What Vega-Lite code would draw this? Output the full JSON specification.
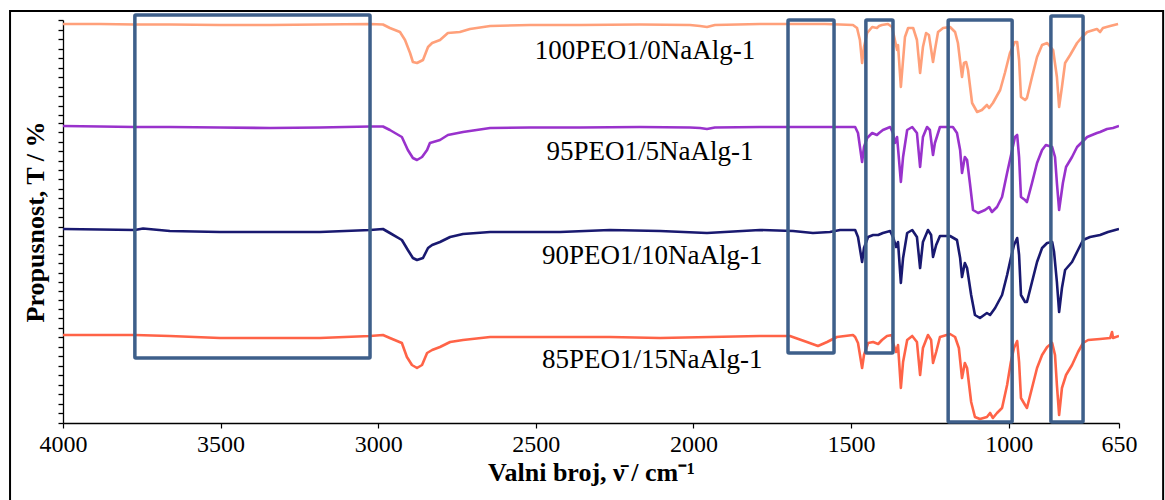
{
  "$schema": "https://vega.github.io/schema/vega-lite/v6.json",
  "width": 1056,
  "height": 403,
  "autosize": "none",
  "padding": {"left": 63, "top": 20, "right": 46, "bottom": 77},
  "background": "white",
  "config": {"font": "Liberation Serif", "view": {"stroke": null}},
  "datasets": {
    "spectra": [
      {"s":"100PEO1/0NaAlg-1","w":4000,"t":399},{"s":"100PEO1/0NaAlg-1","w":3883,"t":399},{"s":"100PEO1/0NaAlg-1","w":3772,"t":398.5},{"s":"100PEO1/0NaAlg-1","w":3661,"t":398.5},{"s":"100PEO1/0NaAlg-1","w":3502,"t":398},{"s":"100PEO1/0NaAlg-1","w":3343,"t":398},{"s":"100PEO1/0NaAlg-1","w":3185,"t":398.5},{"s":"100PEO1/0NaAlg-1","w":3026,"t":399},{"s":"100PEO1/0NaAlg-1","w":2985,"t":398.5},{"s":"100PEO1/0NaAlg-1","w":2963,"t":395},{"s":"100PEO1/0NaAlg-1","w":2931,"t":391},{"s":"100PEO1/0NaAlg-1","w":2915,"t":383},{"s":"100PEO1/0NaAlg-1","w":2899,"t":370},{"s":"100PEO1/0NaAlg-1","w":2890,"t":361},{"s":"100PEO1/0NaAlg-1","w":2877,"t":360},{"s":"100PEO1/0NaAlg-1","w":2858,"t":363},{"s":"100PEO1/0NaAlg-1","w":2842,"t":376},{"s":"100PEO1/0NaAlg-1","w":2829,"t":380},{"s":"100PEO1/0NaAlg-1","w":2804,"t":383},{"s":"100PEO1/0NaAlg-1","w":2779,"t":390},{"s":"100PEO1/0NaAlg-1","w":2741,"t":391},{"s":"100PEO1/0NaAlg-1","w":2709,"t":394},{"s":"100PEO1/0NaAlg-1","w":2645,"t":397},{"s":"100PEO1/0NaAlg-1","w":2518,"t":398},{"s":"100PEO1/0NaAlg-1","w":2360,"t":398},{"s":"100PEO1/0NaAlg-1","w":2170,"t":398.5},{"s":"100PEO1/0NaAlg-1","w":2011,"t":398},{"s":"100PEO1/0NaAlg-1","w":1979,"t":397},{"s":"100PEO1/0NaAlg-1","w":1957,"t":396},{"s":"100PEO1/0NaAlg-1","w":1932,"t":398},{"s":"100PEO1/0NaAlg-1","w":1789,"t":399},{"s":"100PEO1/0NaAlg-1","w":1694,"t":399},{"s":"100PEO1/0NaAlg-1","w":1583,"t":399},{"s":"100PEO1/0NaAlg-1","w":1535,"t":398.5},{"s":"100PEO1/0NaAlg-1","w":1494,"t":398},{"s":"100PEO1/0NaAlg-1","w":1481,"t":395},{"s":"100PEO1/0NaAlg-1","w":1472,"t":383},{"s":"100PEO1/0NaAlg-1","w":1465,"t":360},{"s":"100PEO1/0NaAlg-1","w":1459,"t":376},{"s":"100PEO1/0NaAlg-1","w":1449,"t":390},{"s":"100PEO1/0NaAlg-1","w":1433,"t":396},{"s":"100PEO1/0NaAlg-1","w":1418,"t":395},{"s":"100PEO1/0NaAlg-1","w":1411,"t":397},{"s":"100PEO1/0NaAlg-1","w":1402,"t":398},{"s":"100PEO1/0NaAlg-1","w":1383,"t":399},{"s":"100PEO1/0NaAlg-1","w":1370,"t":396},{"s":"100PEO1/0NaAlg-1","w":1361,"t":383},{"s":"100PEO1/0NaAlg-1","w":1354,"t":373},{"s":"100PEO1/0NaAlg-1","w":1351,"t":378},{"s":"100PEO1/0NaAlg-1","w":1342,"t":336},{"s":"100PEO1/0NaAlg-1","w":1335,"t":363},{"s":"100PEO1/0NaAlg-1","w":1329,"t":386},{"s":"100PEO1/0NaAlg-1","w":1319,"t":395},{"s":"100PEO1/0NaAlg-1","w":1303,"t":395},{"s":"100PEO1/0NaAlg-1","w":1291,"t":383},{"s":"100PEO1/0NaAlg-1","w":1281,"t":350},{"s":"100PEO1/0NaAlg-1","w":1272,"t":376},{"s":"100PEO1/0NaAlg-1","w":1262,"t":390},{"s":"100PEO1/0NaAlg-1","w":1253,"t":388},{"s":"100PEO1/0NaAlg-1","w":1240,"t":361},{"s":"100PEO1/0NaAlg-1","w":1234,"t":373},{"s":"100PEO1/0NaAlg-1","w":1224,"t":391},{"s":"100PEO1/0NaAlg-1","w":1208,"t":395},{"s":"100PEO1/0NaAlg-1","w":1186,"t":396},{"s":"100PEO1/0NaAlg-1","w":1170,"t":391},{"s":"100PEO1/0NaAlg-1","w":1161,"t":380},{"s":"100PEO1/0NaAlg-1","w":1148,"t":346},{"s":"100PEO1/0NaAlg-1","w":1142,"t":360},{"s":"100PEO1/0NaAlg-1","w":1135,"t":361},{"s":"100PEO1/0NaAlg-1","w":1129,"t":353},{"s":"100PEO1/0NaAlg-1","w":1116,"t":320},{"s":"100PEO1/0NaAlg-1","w":1100,"t":311},{"s":"100PEO1/0NaAlg-1","w":1085,"t":313},{"s":"100PEO1/0NaAlg-1","w":1069,"t":318},{"s":"100PEO1/0NaAlg-1","w":1062,"t":315},{"s":"100PEO1/0NaAlg-1","w":1050,"t":320},{"s":"100PEO1/0NaAlg-1","w":1027,"t":333},{"s":"100PEO1/0NaAlg-1","w":1012,"t":350},{"s":"100PEO1/0NaAlg-1","w":996,"t":370},{"s":"100PEO1/0NaAlg-1","w":980,"t":381},{"s":"100PEO1/0NaAlg-1","w":973,"t":381},{"s":"100PEO1/0NaAlg-1","w":967,"t":363},{"s":"100PEO1/0NaAlg-1","w":961,"t":326},{"s":"100PEO1/0NaAlg-1","w":948,"t":323},{"s":"100PEO1/0NaAlg-1","w":942,"t":325},{"s":"100PEO1/0NaAlg-1","w":926,"t":346},{"s":"100PEO1/0NaAlg-1","w":910,"t":366},{"s":"100PEO1/0NaAlg-1","w":894,"t":378},{"s":"100PEO1/0NaAlg-1","w":878,"t":380},{"s":"100PEO1/0NaAlg-1","w":859,"t":373},{"s":"100PEO1/0NaAlg-1","w":847,"t":346},{"s":"100PEO1/0NaAlg-1","w":840,"t":316},{"s":"100PEO1/0NaAlg-1","w":831,"t":336},{"s":"100PEO1/0NaAlg-1","w":821,"t":360},{"s":"100PEO1/0NaAlg-1","w":805,"t":368},{"s":"100PEO1/0NaAlg-1","w":783,"t":380},{"s":"100PEO1/0NaAlg-1","w":767,"t":386},{"s":"100PEO1/0NaAlg-1","w":751,"t":391},{"s":"100PEO1/0NaAlg-1","w":720,"t":394},{"s":"100PEO1/0NaAlg-1","w":710,"t":391},{"s":"100PEO1/0NaAlg-1","w":701,"t":395},{"s":"100PEO1/0NaAlg-1","w":678,"t":397},{"s":"100PEO1/0NaAlg-1","w":653,"t":399},

      {"s":"95PEO1/5NaAlg-1","w":4000,"t":297},{"s":"95PEO1/5NaAlg-1","w":3883,"t":296.5},{"s":"95PEO1/5NaAlg-1","w":3772,"t":296},{"s":"95PEO1/5NaAlg-1","w":3661,"t":296},{"s":"95PEO1/5NaAlg-1","w":3502,"t":295.5},{"s":"95PEO1/5NaAlg-1","w":3343,"t":295},{"s":"95PEO1/5NaAlg-1","w":3185,"t":295.5},{"s":"95PEO1/5NaAlg-1","w":3026,"t":296.5},{"s":"95PEO1/5NaAlg-1","w":2985,"t":296.5},{"s":"95PEO1/5NaAlg-1","w":2963,"t":293},{"s":"95PEO1/5NaAlg-1","w":2925,"t":286},{"s":"95PEO1/5NaAlg-1","w":2906,"t":273},{"s":"95PEO1/5NaAlg-1","w":2890,"t":265},{"s":"95PEO1/5NaAlg-1","w":2877,"t":263},{"s":"95PEO1/5NaAlg-1","w":2861,"t":266},{"s":"95PEO1/5NaAlg-1","w":2845,"t":273},{"s":"95PEO1/5NaAlg-1","w":2836,"t":280},{"s":"95PEO1/5NaAlg-1","w":2804,"t":283},{"s":"95PEO1/5NaAlg-1","w":2779,"t":288},{"s":"95PEO1/5NaAlg-1","w":2731,"t":291},{"s":"95PEO1/5NaAlg-1","w":2645,"t":295},{"s":"95PEO1/5NaAlg-1","w":2518,"t":295.5},{"s":"95PEO1/5NaAlg-1","w":2360,"t":295.5},{"s":"95PEO1/5NaAlg-1","w":2170,"t":296},{"s":"95PEO1/5NaAlg-1","w":2011,"t":295.5},{"s":"95PEO1/5NaAlg-1","w":1979,"t":295},{"s":"95PEO1/5NaAlg-1","w":1957,"t":294},{"s":"95PEO1/5NaAlg-1","w":1932,"t":295.5},{"s":"95PEO1/5NaAlg-1","w":1789,"t":296},{"s":"95PEO1/5NaAlg-1","w":1694,"t":296},{"s":"95PEO1/5NaAlg-1","w":1583,"t":296},{"s":"95PEO1/5NaAlg-1","w":1535,"t":296},{"s":"95PEO1/5NaAlg-1","w":1487,"t":296},{"s":"95PEO1/5NaAlg-1","w":1478,"t":290},{"s":"95PEO1/5NaAlg-1","w":1465,"t":261},{"s":"95PEO1/5NaAlg-1","w":1459,"t":276},{"s":"95PEO1/5NaAlg-1","w":1449,"t":285},{"s":"95PEO1/5NaAlg-1","w":1433,"t":290},{"s":"95PEO1/5NaAlg-1","w":1418,"t":288},{"s":"95PEO1/5NaAlg-1","w":1411,"t":290},{"s":"95PEO1/5NaAlg-1","w":1399,"t":293},{"s":"95PEO1/5NaAlg-1","w":1376,"t":296},{"s":"95PEO1/5NaAlg-1","w":1367,"t":290},{"s":"95PEO1/5NaAlg-1","w":1361,"t":280},{"s":"95PEO1/5NaAlg-1","w":1354,"t":286},{"s":"95PEO1/5NaAlg-1","w":1342,"t":241},{"s":"95PEO1/5NaAlg-1","w":1335,"t":266},{"s":"95PEO1/5NaAlg-1","w":1322,"t":293},{"s":"95PEO1/5NaAlg-1","w":1306,"t":296},{"s":"95PEO1/5NaAlg-1","w":1291,"t":290},{"s":"95PEO1/5NaAlg-1","w":1281,"t":256},{"s":"95PEO1/5NaAlg-1","w":1272,"t":286},{"s":"95PEO1/5NaAlg-1","w":1259,"t":296},{"s":"95PEO1/5NaAlg-1","w":1250,"t":293},{"s":"95PEO1/5NaAlg-1","w":1240,"t":268},{"s":"95PEO1/5NaAlg-1","w":1234,"t":280},{"s":"95PEO1/5NaAlg-1","w":1218,"t":296},{"s":"95PEO1/5NaAlg-1","w":1186,"t":296},{"s":"95PEO1/5NaAlg-1","w":1177,"t":296},{"s":"95PEO1/5NaAlg-1","w":1164,"t":290},{"s":"95PEO1/5NaAlg-1","w":1154,"t":273},{"s":"95PEO1/5NaAlg-1","w":1148,"t":250},{"s":"95PEO1/5NaAlg-1","w":1139,"t":266},{"s":"95PEO1/5NaAlg-1","w":1132,"t":263},{"s":"95PEO1/5NaAlg-1","w":1123,"t":240},{"s":"95PEO1/5NaAlg-1","w":1113,"t":213},{"s":"95PEO1/5NaAlg-1","w":1097,"t":210},{"s":"95PEO1/5NaAlg-1","w":1075,"t":213},{"s":"95PEO1/5NaAlg-1","w":1062,"t":216},{"s":"95PEO1/5NaAlg-1","w":1053,"t":211},{"s":"95PEO1/5NaAlg-1","w":1037,"t":216},{"s":"95PEO1/5NaAlg-1","w":1021,"t":226},{"s":"95PEO1/5NaAlg-1","w":1005,"t":250},{"s":"95PEO1/5NaAlg-1","w":989,"t":273},{"s":"95PEO1/5NaAlg-1","w":980,"t":286},{"s":"95PEO1/5NaAlg-1","w":973,"t":288},{"s":"95PEO1/5NaAlg-1","w":967,"t":266},{"s":"95PEO1/5NaAlg-1","w":961,"t":226},{"s":"95PEO1/5NaAlg-1","w":948,"t":223},{"s":"95PEO1/5NaAlg-1","w":942,"t":221},{"s":"95PEO1/5NaAlg-1","w":926,"t":240},{"s":"95PEO1/5NaAlg-1","w":910,"t":260},{"s":"95PEO1/5NaAlg-1","w":894,"t":273},{"s":"95PEO1/5NaAlg-1","w":882,"t":278},{"s":"95PEO1/5NaAlg-1","w":862,"t":276},{"s":"95PEO1/5NaAlg-1","w":853,"t":266},{"s":"95PEO1/5NaAlg-1","w":847,"t":240},{"s":"95PEO1/5NaAlg-1","w":840,"t":213},{"s":"95PEO1/5NaAlg-1","w":828,"t":240},{"s":"95PEO1/5NaAlg-1","w":818,"t":256},{"s":"95PEO1/5NaAlg-1","w":799,"t":266},{"s":"95PEO1/5NaAlg-1","w":783,"t":276},{"s":"95PEO1/5NaAlg-1","w":767,"t":281},{"s":"95PEO1/5NaAlg-1","w":751,"t":286},{"s":"95PEO1/5NaAlg-1","w":720,"t":290},{"s":"95PEO1/5NaAlg-1","w":710,"t":291},{"s":"95PEO1/5NaAlg-1","w":688,"t":294},{"s":"95PEO1/5NaAlg-1","w":669,"t":295},{"s":"95PEO1/5NaAlg-1","w":650,"t":297},

      {"s":"90PEO1/10NaAlg-1","w":4000,"t":194},{"s":"90PEO1/10NaAlg-1","w":3883,"t":193.5},{"s":"90PEO1/10NaAlg-1","w":3772,"t":193},{"s":"90PEO1/10NaAlg-1","w":3746,"t":194.5},{"s":"90PEO1/10NaAlg-1","w":3661,"t":192},{"s":"90PEO1/10NaAlg-1","w":3502,"t":191},{"s":"90PEO1/10NaAlg-1","w":3343,"t":191},{"s":"90PEO1/10NaAlg-1","w":3185,"t":191},{"s":"90PEO1/10NaAlg-1","w":3026,"t":193},{"s":"90PEO1/10NaAlg-1","w":2985,"t":194},{"s":"90PEO1/10NaAlg-1","w":2963,"t":190},{"s":"90PEO1/10NaAlg-1","w":2925,"t":183},{"s":"90PEO1/10NaAlg-1","w":2906,"t":173},{"s":"90PEO1/10NaAlg-1","w":2890,"t":165},{"s":"90PEO1/10NaAlg-1","w":2877,"t":163},{"s":"90PEO1/10NaAlg-1","w":2858,"t":165},{"s":"90PEO1/10NaAlg-1","w":2842,"t":175},{"s":"90PEO1/10NaAlg-1","w":2829,"t":178},{"s":"90PEO1/10NaAlg-1","w":2804,"t":181},{"s":"90PEO1/10NaAlg-1","w":2772,"t":186},{"s":"90PEO1/10NaAlg-1","w":2731,"t":189},{"s":"90PEO1/10NaAlg-1","w":2645,"t":191},{"s":"90PEO1/10NaAlg-1","w":2423,"t":191},{"s":"90PEO1/10NaAlg-1","w":2265,"t":193},{"s":"90PEO1/10NaAlg-1","w":2106,"t":192},{"s":"90PEO1/10NaAlg-1","w":1957,"t":190},{"s":"90PEO1/10NaAlg-1","w":1789,"t":193},{"s":"90PEO1/10NaAlg-1","w":1684,"t":192},{"s":"90PEO1/10NaAlg-1","w":1621,"t":190},{"s":"90PEO1/10NaAlg-1","w":1567,"t":191},{"s":"90PEO1/10NaAlg-1","w":1535,"t":193},{"s":"90PEO1/10NaAlg-1","w":1487,"t":193},{"s":"90PEO1/10NaAlg-1","w":1478,"t":186},{"s":"90PEO1/10NaAlg-1","w":1465,"t":161},{"s":"90PEO1/10NaAlg-1","w":1459,"t":175},{"s":"90PEO1/10NaAlg-1","w":1446,"t":186},{"s":"90PEO1/10NaAlg-1","w":1430,"t":188},{"s":"90PEO1/10NaAlg-1","w":1414,"t":188},{"s":"90PEO1/10NaAlg-1","w":1399,"t":190},{"s":"90PEO1/10NaAlg-1","w":1376,"t":192},{"s":"90PEO1/10NaAlg-1","w":1367,"t":186},{"s":"90PEO1/10NaAlg-1","w":1357,"t":176},{"s":"90PEO1/10NaAlg-1","w":1351,"t":181},{"s":"90PEO1/10NaAlg-1","w":1342,"t":140},{"s":"90PEO1/10NaAlg-1","w":1335,"t":165},{"s":"90PEO1/10NaAlg-1","w":1322,"t":190},{"s":"90PEO1/10NaAlg-1","w":1306,"t":193},{"s":"90PEO1/10NaAlg-1","w":1291,"t":186},{"s":"90PEO1/10NaAlg-1","w":1281,"t":155},{"s":"90PEO1/10NaAlg-1","w":1272,"t":181},{"s":"90PEO1/10NaAlg-1","w":1256,"t":193},{"s":"90PEO1/10NaAlg-1","w":1246,"t":188},{"s":"90PEO1/10NaAlg-1","w":1240,"t":166},{"s":"90PEO1/10NaAlg-1","w":1230,"t":178},{"s":"90PEO1/10NaAlg-1","w":1218,"t":187},{"s":"90PEO1/10NaAlg-1","w":1186,"t":187},{"s":"90PEO1/10NaAlg-1","w":1164,"t":183},{"s":"90PEO1/10NaAlg-1","w":1154,"t":165},{"s":"90PEO1/10NaAlg-1","w":1148,"t":146},{"s":"90PEO1/10NaAlg-1","w":1139,"t":160},{"s":"90PEO1/10NaAlg-1","w":1132,"t":155},{"s":"90PEO1/10NaAlg-1","w":1119,"t":128},{"s":"90PEO1/10NaAlg-1","w":1107,"t":108},{"s":"90PEO1/10NaAlg-1","w":1091,"t":105},{"s":"90PEO1/10NaAlg-1","w":1069,"t":110},{"s":"90PEO1/10NaAlg-1","w":1059,"t":108},{"s":"90PEO1/10NaAlg-1","w":1043,"t":115},{"s":"90PEO1/10NaAlg-1","w":1021,"t":128},{"s":"90PEO1/10NaAlg-1","w":1005,"t":148},{"s":"90PEO1/10NaAlg-1","w":993,"t":165},{"s":"90PEO1/10NaAlg-1","w":983,"t":178},{"s":"90PEO1/10NaAlg-1","w":973,"t":185},{"s":"90PEO1/10NaAlg-1","w":967,"t":168},{"s":"90PEO1/10NaAlg-1","w":961,"t":128},{"s":"90PEO1/10NaAlg-1","w":948,"t":121},{"s":"90PEO1/10NaAlg-1","w":942,"t":121},{"s":"90PEO1/10NaAlg-1","w":926,"t":141},{"s":"90PEO1/10NaAlg-1","w":910,"t":161},{"s":"90PEO1/10NaAlg-1","w":894,"t":175},{"s":"90PEO1/10NaAlg-1","w":878,"t":180},{"s":"90PEO1/10NaAlg-1","w":862,"t":181},{"s":"90PEO1/10NaAlg-1","w":856,"t":171},{"s":"90PEO1/10NaAlg-1","w":847,"t":141},{"s":"90PEO1/10NaAlg-1","w":840,"t":111},{"s":"90PEO1/10NaAlg-1","w":831,"t":135},{"s":"90PEO1/10NaAlg-1","w":821,"t":153},{"s":"90PEO1/10NaAlg-1","w":799,"t":161},{"s":"90PEO1/10NaAlg-1","w":780,"t":173},{"s":"90PEO1/10NaAlg-1","w":764,"t":183},{"s":"90PEO1/10NaAlg-1","w":742,"t":186},{"s":"90PEO1/10NaAlg-1","w":710,"t":188},{"s":"90PEO1/10NaAlg-1","w":685,"t":191},{"s":"90PEO1/10NaAlg-1","w":662,"t":193},{"s":"90PEO1/10NaAlg-1","w":650,"t":194},

      {"s":"85PEO1/15NaAlg-1","w":4000,"t":88},{"s":"85PEO1/15NaAlg-1","w":3883,"t":88},{"s":"85PEO1/15NaAlg-1","w":3772,"t":88},{"s":"85PEO1/15NaAlg-1","w":3661,"t":87},{"s":"85PEO1/15NaAlg-1","w":3502,"t":85},{"s":"85PEO1/15NaAlg-1","w":3343,"t":85},{"s":"85PEO1/15NaAlg-1","w":3185,"t":85},{"s":"85PEO1/15NaAlg-1","w":3026,"t":87},{"s":"85PEO1/15NaAlg-1","w":2985,"t":88},{"s":"85PEO1/15NaAlg-1","w":2963,"t":85},{"s":"85PEO1/15NaAlg-1","w":2925,"t":80},{"s":"85PEO1/15NaAlg-1","w":2909,"t":66},{"s":"85PEO1/15NaAlg-1","w":2893,"t":58},{"s":"85PEO1/15NaAlg-1","w":2877,"t":55},{"s":"85PEO1/15NaAlg-1","w":2861,"t":58},{"s":"85PEO1/15NaAlg-1","w":2845,"t":70},{"s":"85PEO1/15NaAlg-1","w":2829,"t":73},{"s":"85PEO1/15NaAlg-1","w":2804,"t":76},{"s":"85PEO1/15NaAlg-1","w":2772,"t":81},{"s":"85PEO1/15NaAlg-1","w":2731,"t":83},{"s":"85PEO1/15NaAlg-1","w":2645,"t":86},{"s":"85PEO1/15NaAlg-1","w":2423,"t":86},{"s":"85PEO1/15NaAlg-1","w":2265,"t":86},{"s":"85PEO1/15NaAlg-1","w":2106,"t":85},{"s":"85PEO1/15NaAlg-1","w":1947,"t":86},{"s":"85PEO1/15NaAlg-1","w":1789,"t":87},{"s":"85PEO1/15NaAlg-1","w":1694,"t":87},{"s":"85PEO1/15NaAlg-1","w":1640,"t":81},{"s":"85PEO1/15NaAlg-1","w":1605,"t":77},{"s":"85PEO1/15NaAlg-1","w":1576,"t":81},{"s":"85PEO1/15NaAlg-1","w":1545,"t":86},{"s":"85PEO1/15NaAlg-1","w":1494,"t":88},{"s":"85PEO1/15NaAlg-1","w":1487,"t":86},{"s":"85PEO1/15NaAlg-1","w":1478,"t":80},{"s":"85PEO1/15NaAlg-1","w":1465,"t":55},{"s":"85PEO1/15NaAlg-1","w":1459,"t":68},{"s":"85PEO1/15NaAlg-1","w":1446,"t":80},{"s":"85PEO1/15NaAlg-1","w":1430,"t":81},{"s":"85PEO1/15NaAlg-1","w":1414,"t":79},{"s":"85PEO1/15NaAlg-1","w":1402,"t":83},{"s":"85PEO1/15NaAlg-1","w":1386,"t":87},{"s":"85PEO1/15NaAlg-1","w":1370,"t":88},{"s":"85PEO1/15NaAlg-1","w":1367,"t":80},{"s":"85PEO1/15NaAlg-1","w":1357,"t":71},{"s":"85PEO1/15NaAlg-1","w":1351,"t":78},{"s":"85PEO1/15NaAlg-1","w":1342,"t":35},{"s":"85PEO1/15NaAlg-1","w":1335,"t":61},{"s":"85PEO1/15NaAlg-1","w":1322,"t":83},{"s":"85PEO1/15NaAlg-1","w":1306,"t":87},{"s":"85PEO1/15NaAlg-1","w":1291,"t":81},{"s":"85PEO1/15NaAlg-1","w":1281,"t":48},{"s":"85PEO1/15NaAlg-1","w":1272,"t":75},{"s":"85PEO1/15NaAlg-1","w":1256,"t":88},{"s":"85PEO1/15NaAlg-1","w":1246,"t":83},{"s":"85PEO1/15NaAlg-1","w":1240,"t":60},{"s":"85PEO1/15NaAlg-1","w":1230,"t":71},{"s":"85PEO1/15NaAlg-1","w":1218,"t":86},{"s":"85PEO1/15NaAlg-1","w":1186,"t":89},{"s":"85PEO1/15NaAlg-1","w":1170,"t":86},{"s":"85PEO1/15NaAlg-1","w":1158,"t":75},{"s":"85PEO1/15NaAlg-1","w":1148,"t":45},{"s":"85PEO1/15NaAlg-1","w":1139,"t":60},{"s":"85PEO1/15NaAlg-1","w":1132,"t":55},{"s":"85PEO1/15NaAlg-1","w":1119,"t":21},{"s":"85PEO1/15NaAlg-1","w":1107,"t":6},{"s":"85PEO1/15NaAlg-1","w":1091,"t":4},{"s":"85PEO1/15NaAlg-1","w":1069,"t":6},{"s":"85PEO1/15NaAlg-1","w":1059,"t":10},{"s":"85PEO1/15NaAlg-1","w":1050,"t":5},{"s":"85PEO1/15NaAlg-1","w":1037,"t":10},{"s":"85PEO1/15NaAlg-1","w":1021,"t":15},{"s":"85PEO1/15NaAlg-1","w":1005,"t":38},{"s":"85PEO1/15NaAlg-1","w":993,"t":61},{"s":"85PEO1/15NaAlg-1","w":983,"t":75},{"s":"85PEO1/15NaAlg-1","w":973,"t":82},{"s":"85PEO1/15NaAlg-1","w":967,"t":61},{"s":"85PEO1/15NaAlg-1","w":961,"t":25},{"s":"85PEO1/15NaAlg-1","w":948,"t":18},{"s":"85PEO1/15NaAlg-1","w":942,"t":15},{"s":"85PEO1/15NaAlg-1","w":926,"t":35},{"s":"85PEO1/15NaAlg-1","w":910,"t":55},{"s":"85PEO1/15NaAlg-1","w":894,"t":68},{"s":"85PEO1/15NaAlg-1","w":878,"t":76},{"s":"85PEO1/15NaAlg-1","w":862,"t":80},{"s":"85PEO1/15NaAlg-1","w":853,"t":68},{"s":"85PEO1/15NaAlg-1","w":847,"t":38},{"s":"85PEO1/15NaAlg-1","w":840,"t":8},{"s":"85PEO1/15NaAlg-1","w":831,"t":35},{"s":"85PEO1/15NaAlg-1","w":818,"t":48},{"s":"85PEO1/15NaAlg-1","w":799,"t":58},{"s":"85PEO1/15NaAlg-1","w":780,"t":71},{"s":"85PEO1/15NaAlg-1","w":764,"t":80},{"s":"85PEO1/15NaAlg-1","w":748,"t":83},{"s":"85PEO1/15NaAlg-1","w":710,"t":84},{"s":"85PEO1/15NaAlg-1","w":678,"t":85},{"s":"85PEO1/15NaAlg-1","w":672,"t":91},{"s":"85PEO1/15NaAlg-1","w":669,"t":85},{"s":"85PEO1/15NaAlg-1","w":650,"t":87}
    ],
    "boxes": [
      {"w1":3772,"w2":3026,"t1":408,"t2":65},
      {"w1":1700,"w2":1554,"t1":403,"t2":70},
      {"w1":1453,"w2":1367,"t1":403,"t2":70},
      {"w1":1192,"w2":989,"t1":403,"t2":1},
      {"w1":866,"w2":764,"t1":407,"t2":1}
    ],
    "labels": [
      {"label":"100PEO1/0NaAlg-1","w":2154,"t":372},
      {"label":"95PEO1/5NaAlg-1","w":2138,"t":271},
      {"label":"90PEO1/10NaAlg-1","w":2131,"t":167},
      {"label":"85PEO1/15NaAlg-1","w":2131,"t":63}
    ],
    "frame": [
      {"w1":4168,"w2":510,"t1":412,"t2":-85}
    ]
  },
  "encoding": {
    "x": {
      "type": "quantitative",
      "scale": {"domain": [4000, 650], "nice": false, "zero": false},
      "axis": {
        "title": "Valni broj, ν̄ / cm⁻¹",
        "values": [4000, 3500, 3000, 2500, 2000, 1500, 1000, 650],
        "format": "d",
        "grid": false,
        "domainColor": "#000000", "domainWidth": 1.3,
        "tickColor": "#000000", "tickSize": 5, "tickWidth": 1.2,
        "labelFont": "Liberation Serif", "labelFontSize": 24, "labelColor": "#000000", "labelPadding": 4,
        "labelFlush": false, "labelOverlap": false,
        "titleFont": "Liberation Serif", "titleFontSize": 26, "titleFontWeight": "bold", "titleColor": "#000000", "titlePadding": 3
      }
    },
    "y": {
      "type": "quantitative",
      "scale": {"domain": [0, 403], "nice": false, "zero": false},
      "axis": {
        "title": "Propusnost, T / %",
        "values": [403, 393, 384, 374, 365, 355, 346, 336, 327, 317, 308, 300, 291, 281, 272, 262, 253, 244, 234, 225, 215, 206, 196, 187, 178, 169, 160, 150, 141, 132, 123, 114, 105, 95, 86, 76, 67, 57, 48, 38, 29, 19, 10, 0],
        "labels": false,
        "grid": false,
        "domainColor": "#000000", "domainWidth": 1.3,
        "tickColor": "#000000", "tickSize": 5, "tickWidth": 1.3, "tickRound": true,
        "titleFont": "Liberation Serif", "titleFontSize": 26, "titleFontWeight": "bold", "titleColor": "#000000", "titlePadding": 9
      }
    }
  },
  "layer": [
    {
      "data": {"name": "frame"},
      "mark": {"type": "rect", "fill": null, "stroke": "#000000", "strokeWidth": 2, "clip": false},
      "encoding": {
        "x": {"field": "w1", "type": "quantitative"},
        "x2": {"field": "w2"},
        "y": {"field": "t1", "type": "quantitative"},
        "y2": {"field": "t2"}
      }
    },
    {
      "data": {"name": "spectra"},
      "mark": {"type": "line", "strokeWidth": 2.6, "strokeJoin": "round", "clip": true},
      "encoding": {
        "x": {"field": "w", "type": "quantitative"},
        "y": {"field": "t", "type": "quantitative"},
        "color": {
          "field": "s", "type": "nominal", "legend": null,
          "scale": {
            "domain": ["100PEO1/0NaAlg-1", "95PEO1/5NaAlg-1", "90PEO1/10NaAlg-1", "85PEO1/15NaAlg-1"],
            "range": ["#FFA07A", "#9932CC", "#191970", "#FF6347"]
          }
        }
      }
    },
    {
      "data": {"name": "labels"},
      "mark": {"type": "text", "font": "Liberation Serif", "fontSize": 27, "color": "#000000", "align": "center", "baseline": "middle"},
      "encoding": {
        "x": {"field": "w", "type": "quantitative"},
        "y": {"field": "t", "type": "quantitative"},
        "text": {"field": "label"}
      }
    },
    {
      "data": {"name": "boxes"},
      "mark": {"type": "rect", "fill": null, "stroke": "#3E5F8A", "strokeWidth": 3.5, "cornerRadius": 1},
      "encoding": {
        "x": {"field": "w1", "type": "quantitative"},
        "x2": {"field": "w2"},
        "y": {"field": "t1", "type": "quantitative"},
        "y2": {"field": "t2"}
      }
    }
  ]
}
